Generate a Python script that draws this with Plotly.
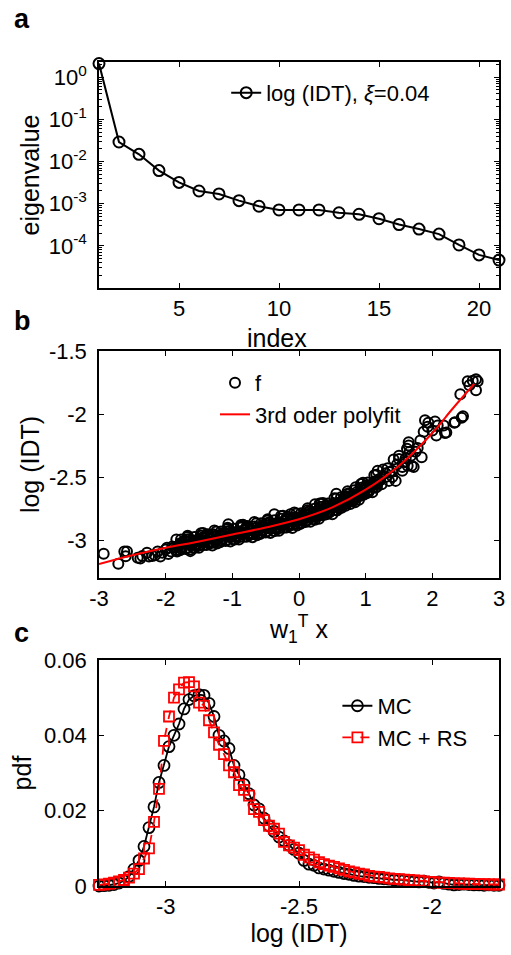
import numpy as np
import plotly.graph_objects as go

# ---------------- panel a: eigenvalues ----------------
a_index = list(range(1, 22))
a_eig = [2.1, 0.029, 0.0148, 0.0061, 0.0032, 0.0020, 0.0017, 0.00118, 0.00087, 0.00071,
         0.00071, 0.00071, 0.00061, 0.00056, 0.00044, 0.00032, 0.00025, 0.00019,
         0.000105, 0.000061, 0.000046]
a_ytickvals = [1e-4, 1e-3, 1e-2, 1e-1, 1]
a_yticktext = ["10<sup>-4</sup>", "10<sup>-3</sup>", "10<sup>-2</sup>", "10<sup>-1</sup>", "10<sup>0</sup>"]
a_minor_mantissas = [2, 3, 4, 5, 6, 7, 8, 9]
a_minor_decades = [1e-5, 1e-4, 1e-3, 1e-2, 1e-1, 1]

# ---------------- panel b: scatter + polyfit ----------------
b_left = [(-2.93, -3.108), (-2.71, -3.188), (-2.62, -3.09), (-2.58, -3.09), (-2.6, -3.128),
          (-2.42, -3.14), (-2.38, -3.145), (-2.35, -3.125), (-2.2, -3.125), (-2.16, -3.12),
          (-2.05, -3.1), (-2.0, -3.075), (-1.96, -3.11), (-1.92, -3.09), (-1.88, -3.06),
          (-1.85, -3.08), (-1.82, -3.05), (-2.28, -3.1), (-2.25, -3.13), (-2.12, -3.09),
          (-2.08, -3.13), (-1.9, -3.05), (-1.98, -3.06)]
b_band_x = [
    [-1.84, -1.78, -1.81, -1.76, -1.83, -1.79],
    [-1.67, -1.72, -1.655, -1.745, -1.7, -1.685],
    [-1.64, -1.58, -1.61, -1.56, -1.63, -1.59],
    [-1.47, -1.52, -1.455, -1.545, -1.5, -1.485],
    [-1.44, -1.38, -1.41, -1.36, -1.43, -1.39],
    [-1.27, -1.32, -1.255, -1.345, -1.3, -1.285],
    [-1.24, -1.18, -1.21, -1.16, -1.23, -1.19],
    [-1.07, -1.12, -1.055, -1.145, -1.1, -1.085],
    [-1.04, -0.98, -1.01, -0.96, -1.03, -0.99],
    [-0.87, -0.92, -0.855, -0.945, -0.9, -0.885],
    [-0.84, -0.78, -0.81, -0.76, -0.83, -0.79],
    [-0.67, -0.72, -0.655, -0.745, -0.7, -0.685],
    [-0.64, -0.58, -0.61, -0.56, -0.63, -0.59],
    [-0.47, -0.52, -0.455, -0.545, -0.5, -0.485],
    [-0.44, -0.38, -0.41, -0.36, -0.43, -0.39],
    [-0.27, -0.32, -0.255, -0.345, -0.3, -0.285],
    [-0.24, -0.18, -0.21, -0.16, -0.23, -0.19],
    [-0.07, -0.12, -0.055, -0.145, -0.1, -0.085],
    [-0.04, 0.02, -0.01, 0.04, -0.03, 0.01],
    [0.13, 0.08, 0.145, 0.055, 0.1, 0.115],
    [0.16, 0.22, 0.19, 0.24, 0.17, 0.21],
    [0.33, 0.28, 0.345, 0.255, 0.3, 0.315],
    [0.36, 0.42, 0.39, 0.44, 0.37, 0.41],
    [0.53, 0.48, 0.545, 0.455, 0.5, 0.515],
    [0.56, 0.62, 0.59, 0.64, 0.57, 0.61],
    [0.73, 0.68, 0.745, 0.655, 0.7, 0.715],
    [0.76, 0.82, 0.79, 0.84, 0.77, 0.81],
    [0.93, 0.88, 0.945, 0.855, 0.9, 0.915],
    [0.96, 1.02, 0.99, 1.04, 0.97, 1.01],
    [1.13, 1.08, 1.145, 1.055, 1.1, 1.115],
    [1.16, 1.22, 1.19, 1.24, 1.17, 1.21],
]
b_band_y = [
    [-2.995, -3.025, -3.05, -3.07, -3.09, -3.04],
    [-2.975, -3.005, -3.035, -3.05, -3.07, -2.995],
    [-2.99, -3.015, -3.04, -3.06, -3.075, -3.005],
    [-2.965, -2.995, -3.02, -3.04, -3.06, -3.01],
    [-2.944, -2.974, -3.004, -3.019, -3.039, -2.964],
    [-2.958, -2.983, -3.008, -3.028, -3.043, -2.973],
    [-2.932, -2.962, -2.987, -3.007, -3.027, -2.977],
    [-2.911, -2.941, -2.971, -2.986, -3.006, -2.931],
    [-2.925, -2.95, -2.975, -2.995, -3.01, -2.94],
    [-2.899, -2.929, -2.954, -2.974, -2.994, -2.944],
    [-2.878, -2.908, -2.938, -2.953, -2.973, -2.898],
    [-2.892, -2.917, -2.942, -2.962, -2.977, -2.907],
    [-2.866, -2.896, -2.921, -2.941, -2.961, -2.911],
    [-2.845, -2.875, -2.905, -2.92, -2.94, -2.865],
    [-2.858, -2.883, -2.908, -2.928, -2.943, -2.873],
    [-2.83, -2.86, -2.885, -2.905, -2.925, -2.875],
    [-2.807, -2.837, -2.867, -2.882, -2.902, -2.827],
    [-2.818, -2.843, -2.868, -2.888, -2.903, -2.833],
    [-2.789, -2.819, -2.844, -2.864, -2.884, -2.834],
    [-2.762, -2.792, -2.822, -2.837, -2.857, -2.782],
    [-2.769, -2.794, -2.819, -2.839, -2.854, -2.784],
    [-2.735, -2.765, -2.79, -2.81, -2.83, -2.78],
    [-2.705, -2.735, -2.765, -2.78, -2.8, -2.725],
    [-2.71, -2.735, -2.76, -2.78, -2.795, -2.725],
    [-2.669, -2.699, -2.724, -2.744, -2.764, -2.714],
    [-2.632, -2.662, -2.692, -2.707, -2.727, -2.652],
    [-2.629, -2.654, -2.679, -2.699, -2.714, -2.644],
    [-2.585, -2.615, -2.64, -2.66, -2.68, -2.63],
    [-2.545, -2.575, -2.605, -2.62, -2.64, -2.565],
    [-2.535, -2.56, -2.585, -2.605, -2.62, -2.55],
    [-2.482, -2.512, -2.537, -2.557, -2.577, -2.527],
]
b_band2_x = [
    [-1.77, -1.725, -1.75, -1.785], [-1.67, -1.625, -1.65, -1.685],
    [-1.57, -1.525, -1.55, -1.585], [-1.47, -1.425, -1.45, -1.485],
    [-1.37, -1.325, -1.35, -1.385], [-1.27, -1.225, -1.25, -1.285],
    [-1.17, -1.125, -1.15, -1.185], [-1.07, -1.025, -1.05, -1.085],
    [-0.97, -0.925, -0.95, -0.985], [-0.87, -0.825, -0.85, -0.885],
    [-0.77, -0.725, -0.75, -0.785], [-0.67, -0.625, -0.65, -0.685],
    [-0.57, -0.525, -0.55, -0.585], [-0.47, -0.425, -0.45, -0.485],
    [-0.37, -0.325, -0.35, -0.385], [-0.27, -0.225, -0.25, -0.285],
    [-0.17, -0.125, -0.15, -0.185], [-0.07, -0.025, -0.05, -0.085],
    [0.03, 0.075, 0.05, 0.015], [0.13, 0.175, 0.15, 0.115],
    [0.23, 0.275, 0.25, 0.215], [0.33, 0.375, 0.35, 0.315],
    [0.43, 0.475, 0.45, 0.415], [0.53, 0.575, 0.55, 0.515],
    [0.63, 0.675, 0.65, 0.615], [0.73, 0.775, 0.75, 0.715],
    [0.83, 0.875, 0.85, 0.815], [0.93, 0.975, 0.95, 0.915],
    [1.03, 1.075, 1.05, 1.015], [1.13, 1.175, 1.15, 1.115],
]
b_band2_y = [
    [-2.995, -3.025, -3.055, -3.08], [-2.965, -3.005, -3.035, -3.06],
    [-2.975, -3.005, -3.035, -3.06], [-2.945, -2.985, -3.015, -3.04],
    [-2.954, -2.984, -3.014, -3.039], [-2.923, -2.963, -2.993, -3.018],
    [-2.932, -2.962, -2.992, -3.017], [-2.901, -2.941, -2.971, -2.996],
    [-2.91, -2.94, -2.97, -2.995], [-2.879, -2.919, -2.949, -2.974],
    [-2.888, -2.918, -2.948, -2.973], [-2.857, -2.897, -2.927, -2.952],
    [-2.866, -2.896, -2.926, -2.951], [-2.834, -2.874, -2.904, -2.929],
    [-2.842, -2.872, -2.902, -2.927], [-2.809, -2.849, -2.879, -2.904],
    [-2.815, -2.845, -2.875, -2.9], [-2.781, -2.821, -2.851, -2.876],
    [-2.786, -2.816, -2.846, -2.871], [-2.748, -2.788, -2.818, -2.843],
    [-2.75, -2.78, -2.81, -2.835], [-2.71, -2.75, -2.78, -2.805],
    [-2.71, -2.74, -2.77, -2.795], [-2.667, -2.707, -2.737, -2.762],
    [-2.66, -2.69, -2.72, -2.745], [-2.613, -2.653, -2.683, -2.708],
    [-2.605, -2.635, -2.665, -2.69], [-2.555, -2.595, -2.625, -2.65],
    [-2.543, -2.573, -2.603, -2.628], [-2.486, -2.526, -2.556, -2.581],
]
b_extra = [(-1.75, -3.02), (-1.63, -3.087), (-1.46, -2.98), (-1.29, -2.954), (-1.06, -2.874),
           (-0.86, -2.888), (-0.37, -2.795), (-0.13, -2.795), (0.24, -2.715), (0.31, -2.71),
           (0.56, -2.632), (0.85, -2.58), (1.18, -2.449), (1.26, -2.44)]
b_right = [(1.3, -2.47), (1.35, -2.53), (1.4, -2.449), (1.42, -2.36), (1.45, -2.53),
           (1.5, -2.356), (1.5, -2.33), (1.55, -2.449), (1.4, -2.5), (1.3, -2.5),
           (1.33, -2.43), (1.47, -2.4), (1.58, -2.38), (1.6, -2.35), (1.62, -2.276),
           (1.63, -2.41), (1.645, -2.223), (1.645, -2.25), (1.66, -2.30), (1.69, -2.41),
           (1.72, -2.42), (1.75, -2.3), (1.78, -2.27), (1.82, -2.21), (1.84, -2.343),
           (1.87, -2.14), (1.89, -2.05), (1.93, -2.10), (1.94, -2.07), (2.0, -2.13),
           (2.04, -2.06), (2.06, -2.17), (2.08, -2.09), (2.17, -2.09), (2.19, -2.15),
           (2.21, -2.146), (2.33, -2.07), (2.34, -2.066), (2.42, -1.843), (2.44, -2.03),
           (2.46, -2.018), (2.53, -1.74), (2.556, -1.771), (2.606, -1.737), (2.655, -1.724),
           (2.68, -1.74), (2.655, -1.812), (1.68, -2.33), (1.55, -2.42), (1.36, -2.46)]
b_fit_x = [-3.0, -2.5, -2.0, -1.5, -1.0, -0.5, 0.0, 0.5, 1.0, 1.5, 2.0, 2.3, 2.63]
b_fit_y = [-3.19, -3.12, -3.06, -3.01, -2.955, -2.90, -2.834, -2.74, -2.60, -2.41, -2.15, -1.96, -1.76]
b_yticks = [-3, -2.5, -2, -1.5]
b_yticktext = ["-3", "-2.5", "-2", "-1.5"]
b_xticks = [-3, -2, -1, 0, 1, 2, 3]
b_xticktext = ["-3", "-2", "-1", "0", "1", "2", "3"]

# ---------------- panel c: pdf ----------------
c_bins = np.linspace(-3.25, -1.75, 81)
c_mc = [0.0000, 0.0001, 0.0002, 0.0004, 0.0008, 0.0014, 0.0025, 0.0045, 0.0068, 0.0105,
        0.0155, 0.0210, 0.0275, 0.0320, 0.0370, 0.0400, 0.0430, 0.0470, 0.0495, 0.0505,
        0.0508, 0.0506, 0.0485, 0.0450, 0.0400, 0.0385, 0.0365, 0.0320, 0.0295, 0.0270,
        0.0245, 0.0215, 0.0205, 0.0180, 0.0160, 0.0145, 0.0130, 0.0120, 0.0108, 0.0097,
        0.0087, 0.0068, 0.0058, 0.0055, 0.0048, 0.0045, 0.0042, 0.0039, 0.0036, 0.0033,
        0.0031, 0.0028, 0.0026, 0.0025, 0.0023, 0.0022, 0.0020, 0.0019, 0.0018, 0.0016,
        0.0017, 0.0015, 0.0014, 0.0012, 0.0011, 0.0013, 0.0010, 0.0008, 0.0011, 0.0007,
        0.0005, 0.0003, 0.0004, 0.0005, 0.0004, 0.0003, 0.0003, 0.0002, 0.0003, 0.0002,
        0.0002]
c_rs = [0.0003, 0.0004, 0.0006, 0.0009, 0.0012, 0.0016, 0.0022, 0.0033, 0.0045, 0.0073,
        0.0100, 0.0170, 0.0258, 0.0385, 0.0450, 0.0500, 0.0522, 0.0540, 0.0541, 0.0530,
        0.0487, 0.0479, 0.0440, 0.0408, 0.0375, 0.0350, 0.0320, 0.0302, 0.0268, 0.0255,
        0.0240, 0.0204, 0.0197, 0.0175, 0.0160, 0.0152, 0.0139, 0.0117, 0.0108, 0.0102,
        0.0095, 0.0083, 0.0076, 0.0070, 0.0063, 0.0058, 0.0054, 0.0051, 0.0047, 0.0043,
        0.0039, 0.0036, 0.0033, 0.0031, 0.0027, 0.0025, 0.0024, 0.0022, 0.0020, 0.0019,
        0.0018, 0.0017, 0.0016, 0.0015, 0.0014, 0.0012, 0.0011, 0.0010, 0.0009, 0.0009,
        0.0008, 0.0007, 0.0007, 0.0006, 0.0006, 0.0005, 0.0005, 0.0005, 0.0004, 0.0004,
        0.0004]
c_xticks = [-3, -2.5, -2]
c_xticktext = ["-3", "-2.5", "-2"]
c_yticks = [0, 0.02, 0.04, 0.06]
c_yticktext = ["0", "0.02", "0.04", "0.06"]

# ---------------- build ----------------
FONT = "Arial, Liberation Sans, Helvetica, sans-serif"
TICK = 22
TITLE = 25

b_pts = list(b_left) + list(b_extra) + list(b_right)
b_x = ([p[0] for p in b_pts] + [v for row in b_band_x for v in row]
       + [v for row in b_band2_x for v in row])
b_y = ([p[1] for p in b_pts] + [v for row in b_band_y for v in row]
       + [v for row in b_band2_y for v in row])
a_minor_vals = [m * d for d in a_minor_decades for m in a_minor_mantissas]

fig = go.Figure()
fig.add_trace(go.Scatter(
    x=a_index, y=a_eig, mode="lines+markers", name="log (IDT), <i>ξ</i>=0.04",
    line=dict(color="black", width=2),
    marker=dict(symbol="circle-open", size=11, color="black", line=dict(width=2)),
    cliponaxis=False, xaxis="x", yaxis="y", legend="legend"))
fig.add_trace(go.Scatter(
    x=b_x, y=b_y, mode="markers", name="f",
    marker=dict(symbol="circle-open", size=10, color="black", line=dict(width=2)),
    xaxis="x2", yaxis="y2", legend="legend2"))
fig.add_trace(go.Scatter(
    x=b_fit_x, y=b_fit_y, mode="lines", name="3rd oder polyfit",
    line=dict(color="red", width=2, shape="spline", smoothing=1.0),
    xaxis="x2", yaxis="y2", legend="legend2"))
fig.add_trace(go.Scatter(
    x=c_bins, y=c_mc, mode="lines+markers", name="MC",
    line=dict(color="black", width=1.8),
    marker=dict(symbol="circle-open", size=11, color="black", line=dict(width=1.8)),
    cliponaxis=False, xaxis="x3", yaxis="y3", legend="legend3"))
fig.add_trace(go.Scatter(
    x=c_bins, y=c_rs, mode="lines+markers", name="MC + RS",
    line=dict(color="red", width=1.8, dash="dash"),
    marker=dict(symbol="square-open", size=10, color="red", line=dict(width=1.8)),
    cliponaxis=False, xaxis="x3", yaxis="y3", legend="legend3"))

axcommon = dict(showline=True, linecolor="black", linewidth=1.5, mirror="allticks",
                ticks="inside", ticklen=5, tickwidth=1, tickcolor="black",
                showgrid=False, zeroline=False,
                tickfont=dict(size=TICK, color="black", family=FONT))
ycommon = dict(axcommon, ticklabelposition="outside", ticklabelstandoff=6)

dom_a = [0.7257, 1.0]
dom_b = [0.3738, 0.6493]
dom_c = [0.0, 0.2743]

fig.update_layout(
    width=511, height=955,
    margin=dict(l=99, r=6, t=62, b=69),
    paper_bgcolor="white", plot_bgcolor="rgba(0,0,0,0)",
    font=dict(family=FONT, color="black", size=TICK),
    xaxis=dict(axcommon, domain=[0, 1], anchor="y", range=[1, 21],
               tickvals=[5, 10, 15, 20]),
    yaxis=dict(ycommon, domain=dom_a, anchor="x", type="log", range=[-5, 0.36],
               tickvals=a_ytickvals, ticktext=a_yticktext,
               minor=dict(ticks="inside", ticklen=3, tickcolor="black", showgrid=False,
                          tickmode="array", tickvals=a_minor_vals),
               title=dict(text="eigenvalue", font=dict(size=TITLE), standoff=2)),
    xaxis2=dict(axcommon, domain=[0, 1], anchor="y2", range=[-3, 3],
                tickvals=b_xticks, ticktext=b_xticktext,
                title=dict(text="w<sub>1</sub><sup>T</sup> x", font=dict(size=TITLE), standoff=10)),
    yaxis2=dict(ycommon, domain=dom_b, anchor="x2", range=[-3.3, -1.5],
                tickvals=b_yticks, ticktext=b_yticktext,
                title=dict(text="log (IDT)", font=dict(size=TITLE), standoff=2)),
    xaxis3=dict(axcommon, domain=[0, 1], anchor="y3", range=[-3.25, -1.75],
                tickvals=c_xticks, ticktext=c_xticktext,
                title=dict(text="log (IDT)", font=dict(size=TITLE), standoff=4)),
    yaxis3=dict(ycommon, domain=dom_c, anchor="x3", range=[0, 0.06],
                tickvals=c_yticks, ticktext=c_yticktext,
                title=dict(text="pdf", font=dict(size=TITLE), standoff=5)),
    legend=dict(x=0.318, y=0.988, xanchor="left", yanchor="top", bgcolor="rgba(0,0,0,0)",
                font=dict(size=TICK), borderwidth=0),
    legend2=dict(x=0.29, y=0.636, xanchor="left", yanchor="top", bgcolor="rgba(0,0,0,0)",
                 font=dict(size=TICK), borderwidth=0),
    legend3=dict(x=0.596, y=0.244, xanchor="left", yanchor="top", bgcolor="rgba(0,0,0,0)",
                 font=dict(size=TICK), borderwidth=0),
    showlegend=True,
)

# x label of panel a (placed as text so it clears panel b's top edge)
fig.add_annotation(text="index", xref="paper", yref="paper", x=(280 - 99) / 406, y=(886 - 338) / 824,
                   xanchor="center", yanchor="middle", showarrow=False,
                   font=dict(size=TITLE, color="black", family=FONT))

for label, yp in [("a", 1.052), ("b", 0.6855), ("c", 0.307)]:
    fig.add_annotation(text="<b>%s</b>" % label, xref="paper", yref="paper",
                       x=-0.2167, y=yp, xanchor="left", yanchor="middle",
                       showarrow=False, font=dict(size=27, color="black", family=FONT))

fig.write_html("out.html")
